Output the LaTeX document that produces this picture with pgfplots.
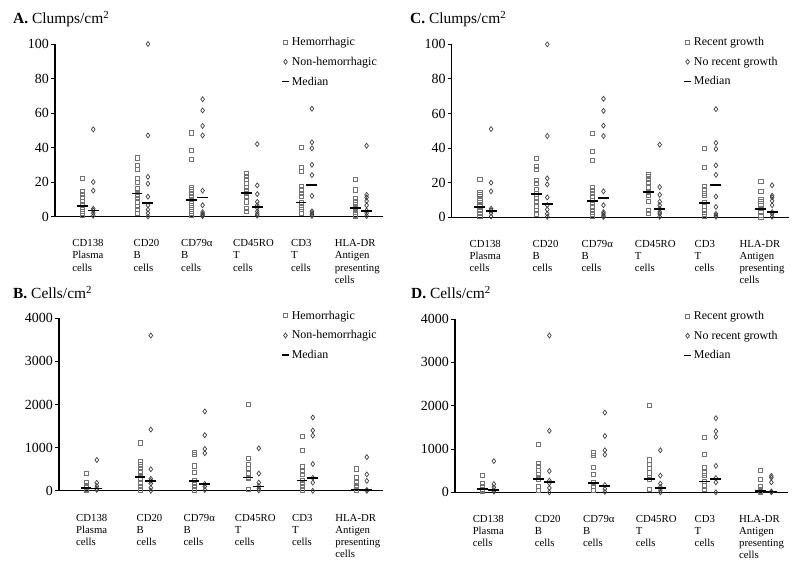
\documentclass[border=0pt]{standalone}
\usepackage{fontspec}
\setmainfont{Liberation Serif}
\usepackage{pgfplots}
\pgfplotsset{compat=1.18}
\pgfplotsset{
 panel/.style={
  scale only axis,
  axis x line=bottom, axis y line=left,
  axis line style={line width=1.2pt,-},
  xmin=-0.5,xmax=5.5,
  xtick={-0.13,0.99,1.86,2.81,3.87,4.67},
  xticklabels={{CD138\\Plasma\\cells},{CD20\\B\\cells},{CD79α\\B\\cells},{CD45RO\\T\\cells},{CD3\\T\\cells},{HLA-DR\\Antigen\\presenting\\cells}},
  x tick style={draw=none},
  xticklabel style={anchor=north west, align=left, font=\fontsize{10.8}{12.2}\selectfont, inner sep=0pt, yshift=-19pt, xshift=-3pt},
  y tick style={line width=0.8pt,black},
  tick align=outside, major tick length=4pt,
  yticklabel style={font=\fontsize{14}{14}\selectfont, inner sep=2pt},
  /pgf/number format/assume math mode=true,
  /pgf/number format/set thousands separator={},
  scaled y ticks=false,
  clip=false,
  legend style={draw=none, fill=none, font=\fontsize{12}{12}\selectfont, row sep=6pt, anchor=north west, inner sep=0pt, cells={anchor=west}},
  legend image code/.code={\draw[mark repeat=1,#1] plot coordinates {(0pt,0pt)};},
 },
 hem/.style={only marks, mark=square, mark size=2.1pt, mark options={draw=black!55, line width=0.7pt, fill=white}},
 non/.style={only marks, mark=diamond, mark size=2.5pt, mark options={draw=black!75, line width=0.7pt, fill=white}},
 med/.style={only marks, mark=-, mark size=5.5pt, mark options={draw=black, line width=1.7pt},
   legend image code/.code={\draw[black,line width=1.7pt] (-3.5pt,0)--(3.5pt,0);}},
}
\tikzset{ttl/.style={anchor=base west, inner sep=0pt, font=\fontsize{15.5}{16}\selectfont}}
\begin{document}
\begin{tikzpicture}
\useasboundingbox (0,0) rectangle (800bp,563bp);
% ---------------- A ----------------
\node[ttl] at (13bp,539bp) {\textbf{A.} Clumps/cm\textsuperscript{2}};
\begin{axis}[panel, at={(55bp,346.5bp)}, anchor=south west, width=328bp, height=172.5bp,
  ymin=0, ymax=100, ytick={0,20,40,60,80,100},
  legend style={at={(0.689,1.052)}}]
\addplot[hem] coordinates {
(0,22)(0,14.5)(0,13)(0,11)(0,9)(0,7)(0,5.5)(0,4)(0,2)(0,0.5)
(1,34)(1,29.5)(1,27.5)(1,22)(1,20)(1,16)(1,14)(1,12.5)(1,10.5)(1,8.5)(1,6)(1,4)(1,2)
(2,48.5)(2,38.5)(2,33)(2,17)(2,15.5)(2,13.5)(2,11.5)(2,10)(2,9)(2,7.5)(2,5.5)(2,4)(2,2)(2,0.5)
(3,25)(3,23.5)(3,21.5)(3,19)(3,17)(3,15)(3,13.5)(3,11.5)(3,8.5)(3,4.5)(3,3)
(4,40)(4,28.5)(4,26)(4,17.5)(4,15.5)(4,13.5)(4,11.5)(4,8)(4,5.5)(4,4)(4,2)
(5,21.5)(5,15.5)(5,10.5)(5,8.5)(5,7)(5,5.5)(5,4)(5,2.5)(5,1)(5,0.3)};
\addlegendentry{Hemorrhagic}
\addplot[non] coordinates {
(0.2,50.5)(0.2,20)(0.2,15)(0.2,4.5)(0.2,3.5)(0.2,2)(0.2,0.5)
(1.2,100)(1.2,47)(1.2,23)(1.2,19)(1.2,11.5)(1.2,6.5)(1.2,4)(1.2,2)(1.2,0)
(2.2,68)(2.2,61.5)(2.2,52.5)(2.2,47)(2.2,15)(2.2,6.5)(2.2,2.5)(2.2,1.5)(2.2,0.8)(2.2,0.2)
(3.2,42)(3.2,18)(3.2,13)(3.2,8.5)(3.2,6.5)(3.2,5)(3.2,3)(3.2,1.5)(3.2,0.5)
(4.2,62.5)(4.2,43)(4.2,39.5)(4.2,30)(4.2,24)(4.2,12)(4.2,3)(4.2,2)(4.2,1)(4.2,0.3)
(5.2,41)(5.2,12.5)(5.2,11)(5.2,9)(5.2,6.5)(5.2,3.5)(5.2,2)(5.2,0.3)};
\addlegendentry{Non-hemorrhagic}
\addplot[med] coordinates {
(0,6.1)(1,13.3)(2,9.6)(3,13.6)(4,8.2)(5,4.8)
(0.2,3.4)(1.2,7.7)(2.2,11.1)(3.2,5.7)(4.2,18.3)(5.2,3)};
\addlegendentry{Median}
\end{axis}
% ---------------- B ----------------
\node[ttl] at (13bp,264.7bp) {\textbf{B.} Cells/cm\textsuperscript{2}};
\begin{axis}[panel, at={(59bp,72.2bp)}, anchor=south west, width=324bp, height=172.5bp,
  ymin=0, ymax=4000, ytick={0,1000,2000,3000,4000},
  legend style={at={(0.685,1.056)}}]
\addplot[hem] coordinates {
(0,400)(0,190)(0,135)(0,80)(0,40)(0,20)
(1,1110)(1,670)(1,600)(1,520)(1,440)(1,350)(1,300)(1,170)(1,95)(1,20)
(2,900)(2,840)(2,580)(2,420)(2,240)(2,170)(2,95)(2,20)
(3,2000)(3,750)(3,620)(3,520)(3,400)(3,320)(3,280)(3,40)
(4,1270)(4,930)(4,570)(4,450)(4,390)(4,250)(4,170)(4,95)(4,20)
(5,510)(5,310)(5,200)(5,130)(5,80)(5,20)(5,10)};
\addlegendentry{Hemorrhagic}
\addplot[non] coordinates {
(0.2,715)(0.2,185)(0.2,110)(0.2,50)(0.2,20)
(1.2,3600)(1.2,1420)(1.2,500)(1.2,280)(1.2,230)(1.2,170)(1.2,70)(1.2,0)
(2.2,1840)(2.2,1290)(2.2,970)(2.2,870)(2.2,160)(2.2,100)(2.2,20)
(3.2,985)(3.2,400)(3.2,190)(3.2,110)(3.2,50)(3.2,10)
(4.2,1700)(4.2,1400)(4.2,1280)(4.2,620)(4.2,300)(4.2,190)(4.2,0)
(5.2,780)(5.2,380)(5.2,230)(5.2,20)(5.2,0)};
\addlegendentry{Non-hemorrhagic}
\addplot[med] coordinates {
(0,70)(1,320)(2,225)(3,310)(4,240)(5,30)
(0.2,50)(1.2,235)(2.2,150)(3.2,100)(4.2,290)(5.2,20)};
\addlegendentry{Median}
\end{axis}
% ---------------- C ----------------
\node[ttl] at (410bp,539bp) {\textbf{C.} Clumps/cm\textsuperscript{2}};
\begin{axis}[panel, at={(451.7bp,345.7bp)}, anchor=south west, width=337.3bp, height=173bp,
  ymin=0, ymax=100, ytick={0,20,40,60,80,100},
  legend style={at={(0.686,1.054)}}]
\addplot[hem] coordinates {
(0,22)(0,14.5)(0,13)(0,11)(0,9.5)(0,7.5)(0,6)(0,4)(0,2.5)(0,0.5)
(1,34)(1,29.5)(1,27.5)(1,21.5)(1,19.5)(1,16)(1,13.5)(1,11)(1,9)(1,6.5)(1,4)(1,2)
(2,48.5)(2,38)(2,33)(2,17.5)(2,15.5)(2,14)(2,12)(2,10)(2,8)(2,6)(2,4)(2,2)(2,0.5)
(3,25)(3,23.5)(3,22)(3,20)(3,17.5)(3,14.5)(3,12.5)(3,9)(3,4)(3,2.5)
(4,40)(4,29)(4,18)(4,16)(4,14)(4,12.5)(4,8.5)(4,6.5)(4,4)(4,2)(4,0.5)
(5,21)(5,15)(5,10.5)(5,9)(5,7)(5,5)(5,3)(5,1.3)(5,0.3)};
\addlegendentry{Recent growth}
\addplot[non] coordinates {
(0.2,51)(0.2,20)(0.2,15)(0.2,5)(0.2,4)(0.2,2.5)(0.2,0.5)
(1.2,100)(1.2,47)(1.2,22.5)(1.2,19)(1.2,11.5)(1.2,7)(1.2,4.5)(1.2,2)(1.2,0.3)
(2.2,68.5)(2.2,61.5)(2.2,53)(2.2,47)(2.2,15)(2.2,7)(2.2,3)(2.2,2)(2.2,0.8)(2.2,0.2)
(3.2,42)(3.2,17.5)(3.2,13)(3.2,9)(3.2,7)(3.2,5)(3.2,3)(3.2,2)(3.2,0.3)
(4.2,62.5)(4.2,43)(4.2,39.5)(4.2,30)(4.2,24.5)(4.2,12)(4.2,6)(4.2,2)(4.2,1)(4.2,0.3)
(5.2,18.5)(5.2,12.5)(5.2,11.5)(5.2,9.5)(5.2,7)(5.2,3)(5.2,2)(5.2,0.3)};
\addlegendentry{No recent growth}
\addplot[med] coordinates {
(0,6.1)(1,13.3)(2,9.6)(3,14.5)(4,8.4)(5,4.6)
(0.2,3.8)(1.2,7.7)(2.2,11)(3.2,4.6)(4.2,18.5)(5.2,3.2)};
\addlegendentry{Median}
\end{axis}
% ---------------- D ----------------
\node[ttl] at (411bp,264bp) {\textbf{D.} Cells/cm\textsuperscript{2}};
\begin{axis}[panel, at={(455bp,70.7bp)}, anchor=south west, width=333bp, height=173.3bp,
  ymin=0, ymax=4000, ytick={0,1000,2000,3000,4000},
  legend style={at={(0.685,1.058)}}]
\addplot[hem] coordinates {
(0,390)(0,200)(0,130)(0,70)(0,40)(0,15)
(1,1100)(1,670)(1,590)(1,500)(1,420)(1,350)(1,300)(1,130)(1,50)
(2,910)(2,850)(2,570)(2,410)(2,220)(2,130)(2,50)
(3,2010)(3,750)(3,650)(3,560)(3,450)(3,340)(3,300)(3,60)
(4,1270)(4,870)(4,570)(4,450)(4,400)(4,260)(4,150)(4,70)
(5,500)(5,300)(5,130)(5,60)(5,20)(5,10)};
\addlegendentry{Recent growth}
\addplot[non] coordinates {
(0.2,720)(0.2,190)(0.2,115)(0.2,50)(0.2,15)
(1.2,3620)(1.2,1420)(1.2,490)(1.2,270)(1.2,210)(1.2,100)(1.2,0)
(2.2,1840)(2.2,1300)(2.2,970)(2.2,870)(2.2,170)(2.2,80)(2.2,10)
(3.2,970)(3.2,385)(3.2,200)(3.2,120)(3.2,50)(3.2,0)
(4.2,1710)(4.2,1410)(4.2,1280)(4.2,610)(4.2,330)(4.2,230)(4.2,0)
(5.2,380)(5.2,340)(5.2,230)(5.2,20)(5.2,0)};
\addlegendentry{No recent growth}
\addplot[med] coordinates {
(0,70)(1,310)(2,210)(3,310)(4,250)(5,30)
(0.2,50)(1.2,240)(2.2,150)(3.2,100)(4.2,300)(5.2,20)};
\addlegendentry{Median}
\end{axis}
\end{tikzpicture}
\end{document}
